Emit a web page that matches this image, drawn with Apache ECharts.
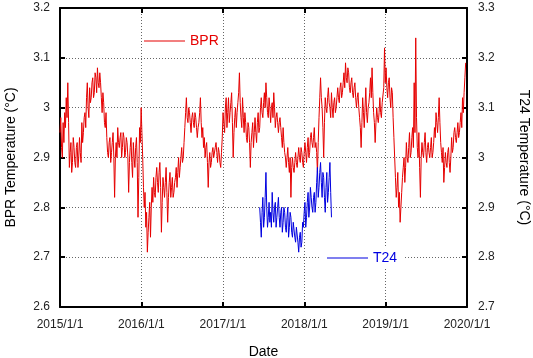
<!DOCTYPE html>
<html>
<head>
<meta charset="utf-8">
<title>BPR / T24 Temperature</title>
<script src="https://cdn.jsdelivr.net/npm/echarts@6/dist/echarts.min.js"></script>
<style>
  html, body { margin: 0; padding: 0; background: #fff; }
  #chart { width: 533px; height: 358px; }
</style>
</head>
<body>
<div id="chart"></div>
<script>
// readings twice a week, first one on the start date
const bprStart = '2015-01-01'
const t24Start = '2017-06-15'
const stepDays = 3.5

const bprTemps = [
  // 2015
  2.95, 2.98, 2.92, 2.90, 2.97, 2.93, 2.99, 2.96, 3.02, 2.98, 3.05, 2.97, 2.88, 2.91,
  2.93, 2.87, 2.89, 2.94, 2.92, 2.89, 2.88, 2.92, 2.93, 2.88, 2.90, 2.94, 2.91, 2.89,
  2.97, 2.93, 2.95, 2.98, 2.99, 2.96, 3.02, 3.05, 3.00, 2.98, 3.04, 3.01, 3.02, 3.05,
  3.06, 3.02, 3.03, 3.07, 3.06, 3.03, 3.08, 3.05, 3.04, 3.07, 3.05, 3.02, 2.99, 3.03,
  3.01, 2.97, 2.96, 2.99, 2.94, 2.91, 2.90, 2.93, 2.94, 2.89, 2.91, 2.93, 2.95, 2.90,
  2.82, 2.90, 2.93, 2.90, 2.96, 2.93, 2.92, 2.94, 2.95, 2.90, 2.92, 2.95, 2.94, 2.90,
  2.91, 2.94, 2.93, 2.90, 2.83, 2.89, 2.92, 2.94, 2.89, 2.86, 2.93, 2.90, 2.88, 2.92,
  2.94, 2.89, 2.78, 2.86, 2.96, 2.93, 3.00,
  // 2016
  2.95, 2.90, 2.84, 2.80, 2.83, 2.76, 2.79, 2.71, 2.75, 2.78, 2.81, 2.74, 2.80, 2.84,
  2.81, 2.86, 2.83, 2.82, 2.86, 2.88, 2.85, 2.83, 2.87, 2.89, 2.84, 2.75, 2.81, 2.86,
  2.84, 2.82, 2.85, 2.88, 2.83, 2.77, 2.82, 2.85, 2.87, 2.82, 2.84, 2.86, 2.82, 2.83,
  2.85, 2.86, 2.88, 2.84, 2.87, 2.90, 2.86, 2.88, 2.90, 2.92, 2.89, 2.90, 2.93, 2.96,
  2.99, 3.02, 2.98, 2.97, 3.00, 2.99, 2.97, 2.95, 2.98, 2.99, 2.97, 2.96, 2.99, 2.98,
  2.96, 2.94, 2.96, 2.97, 2.99, 3.02, 2.97, 2.94, 2.96, 2.92, 2.94, 2.90, 2.92, 2.93,
  2.89, 2.84, 2.89, 2.91, 2.88, 2.89, 2.91, 2.92, 2.90, 2.90, 2.92, 2.93, 2.91, 2.89,
  2.92, 2.91, 2.89, 2.88, 2.91, 2.94,
  // 2017
  2.99, 2.97, 2.95, 3.00, 3.02, 2.96, 2.99, 3.02, 2.97, 2.99, 3.01, 3.03, 2.97, 2.90,
  2.95, 2.98, 3.00, 2.96, 2.99, 3.01, 3.03, 3.07, 3.01, 2.98, 2.96, 3.02, 2.98, 2.95,
  2.99, 2.97, 2.94, 2.93, 2.97, 2.96, 2.93, 2.88, 2.93, 2.95, 2.97, 2.92, 2.95, 2.98,
  2.95, 2.93, 2.97, 2.99, 2.95, 2.96, 3.00, 3.02, 2.99, 2.98, 3.01, 3.03, 3.00, 3.05,
  3.02, 2.99, 2.98, 3.02, 3.00, 2.97, 3.00, 3.01, 2.98, 3.03, 3.00, 2.96, 2.98, 2.99,
  2.97, 2.95, 2.97, 2.98, 2.96, 2.94, 2.92, 2.96, 2.93, 2.91, 2.90, 2.88, 2.90, 2.92,
  2.89, 2.87, 2.90, 2.82, 2.88, 2.90, 2.88, 2.87, 2.89, 2.91, 2.89, 2.88, 2.90, 2.92,
  2.90, 2.89, 2.92, 2.91, 2.89, 2.88,
  // 2018
  2.91, 2.93, 2.91, 2.89, 2.92, 2.94, 2.90, 2.91, 2.94, 2.95, 2.93, 2.92, 2.94, 2.96,
  2.92, 2.93, 2.91, 2.87, 2.93, 2.98, 3.02, 3.06, 3.02, 3.00, 2.96, 2.90, 2.97, 3.02,
  3.00, 2.99, 3.02, 3.04, 3.01, 3.00, 2.98, 3.03, 3.00, 2.98, 3.01, 3.02, 2.99, 3.00,
  3.02, 3.04, 3.02, 3.01, 3.04, 3.05, 3.02, 3.03, 3.05, 3.07, 3.04, 3.09, 3.06, 3.05,
  3.08, 3.07, 3.04, 3.03, 3.05, 3.06, 3.03, 3.02, 3.04, 3.05, 3.02, 3.00, 3.02, 3.03,
  3.00, 2.98, 2.96, 2.92, 2.97, 3.02, 2.99, 2.96, 3.00, 3.04, 2.99, 2.97, 3.00, 3.01,
  3.03, 3.06, 3.02, 3.08, 3.03, 2.99, 2.97, 2.93, 2.97, 3.00, 2.98, 2.97, 2.99, 3.02,
  2.99, 2.98, 3.01, 3.01, 3.04, 3.12,
  // 2019
  3.05, 3.08, 3.04, 3.02, 3.05, 3.06, 3.02, 3.00, 3.04, 3.03, 2.98, 2.94, 2.90, 2.86,
  2.82, 2.84, 2.87, 2.80, 2.83, 2.77, 2.80, 2.83, 2.86, 2.88, 2.90, 2.85, 2.88, 2.93,
  2.90, 2.89, 2.92, 2.95, 2.90, 2.91, 2.94, 2.96, 2.92, 3.05, 2.95, 3.14, 2.98, 2.92,
  2.90, 2.95, 2.88, 2.82, 2.90, 2.93, 2.91, 2.90, 2.93, 2.95, 2.91, 2.89, 2.92, 2.93,
  2.91, 2.90, 2.92, 2.94, 2.90, 2.91, 2.93, 2.96, 2.94, 2.99, 2.97, 2.95, 2.98, 3.02,
  2.97, 2.93, 2.91, 2.89, 2.92, 2.85, 2.88, 2.91, 2.89, 2.88, 2.91, 2.92, 2.89, 2.87,
  2.90, 2.94, 2.91, 2.92, 2.95, 2.96, 2.94, 2.93, 2.95, 2.97, 2.94, 2.95, 2.97, 2.99,
  2.96, 3.02, 2.99, 3.03, 3.06, 3.09
]

const t24Temps = [
  2.90, 2.87, 2.84, 2.89, 2.92, 2.86, 2.88, 2.92, 2.97, 2.90, 2.86, 2.88, 2.91, 2.87,
  2.89, 2.86, 2.93, 2.89, 2.87, 2.90, 2.91, 2.86, 2.88, 2.90, 2.92, 2.88, 2.86, 2.89,
  2.90, 2.85, 2.87, 2.90, 2.89, 2.86, 2.85, 2.88, 2.90, 2.84, 2.86, 2.89, 2.88, 2.85,
  2.84, 2.87, 2.87, 2.84, 2.83, 2.86, 2.86, 2.83, 2.81, 2.84, 2.85, 2.82, 2.83, 2.87,
  2.86, 2.89, 2.91, 2.86, 2.88, 2.91, 2.93, 2.88, 2.90, 2.94, 2.92, 2.90, 2.89, 2.92,
  2.93, 2.89, 2.91, 2.95, 2.98, 2.92, 2.94, 2.97, 2.99, 2.95, 2.92, 2.97, 2.96, 2.92,
  2.89, 2.94, 2.97, 2.91, 2.93, 2.96, 2.99, 2.93, 2.88
]

const DAY = 24 * 3600 * 1000
const toSeries = (start, values) => {
  const t0 = new Date(start + 'T00:00:00').getTime()
  return values.map((v, i) => [t0 + i * stepDays * DAY, v])
}

const font = 'Liberation Sans, Arial, sans-serif'
const gridLine = { show: true, lineStyle: { color: '#666', type: [1, 2], width: 1 } }
const frame = { show: true, lineStyle: { color: '#000', width: 2 } }
const tick = { show: true, inside: true, length: 5, lineStyle: { color: '#000', width: 2 } }

const xMin = new Date('2015-01-01T00:00:00').getTime()
const xMax = new Date('2020-01-01T00:00:00').getTime()

const chart = echarts.init(document.getElementById('chart'))
const option = {
  animation: false,
  backgroundColor: '#fff',
  textStyle: { fontFamily: font },
  grid: { left: 60, right: 66, top: 8, bottom: 51, containLabel: false, outerBoundsMode: 'none' },
  legend: [
    {
      data: ['BPR'],
      left: 139,
      top: 29,
      icon: 'rect',
      itemWidth: 41,
      itemHeight: 1,
      selectedMode: false,
      textStyle: { color: '#e60000', fontSize: 14, fontFamily: font }
    },
    {
      data: ['T24'],
      left: 321,
      top: 248,
      icon: 'rect',
      itemWidth: 41,
      itemHeight: 1,
      selectedMode: false,
      backgroundColor: '#fff',
      padding: [3, 6, 3, 6],
      textStyle: { color: '#0000e0', fontSize: 14, fontFamily: font }
    }
  ],
  xAxis: [
    {
      type: 'time',
      min: xMin,
      max: xMax,
      minInterval: 365 * DAY,
      name: 'Date',
      nameLocation: 'middle',
      nameGap: 38,
      nameTextStyle: { color: '#000', fontSize: 14, fontFamily: font },
      axisLine: frame,
      axisTick: tick,
      splitLine: gridLine,
      axisLabel: {
        color: '#222',
        fontSize: 12,
        margin: 12,
        hideOverlap: false,
        showMinLabel: true,
        showMaxLabel: true,
        formatter: '{yyyy}/{M}/{d}'
      }
    },
    {
      type: 'time',
      position: 'top',
      min: xMin,
      max: xMax,
      minInterval: 365 * DAY,
      axisLine: frame,
      axisTick: tick,
      axisLabel: { show: false },
      splitLine: { show: false }
    }
  ],
  yAxis: [
    {
      type: 'value',
      min: 2.6,
      max: 3.2,
      interval: 0.1,
      name: 'BPR Temperature (°C)',
      nameLocation: 'middle',
      nameGap: 42,
      nameTextStyle: { color: '#000', fontSize: 14, fontFamily: font },
      axisLine: frame,
      axisTick: tick,
      splitLine: gridLine,
      axisLabel: { color: '#222', fontSize: 12, margin: 10 }
    },
    {
      type: 'value',
      min: 2.7,
      max: 3.3,
      interval: 0.1,
      position: 'right',
      name: 'T24 Temperature (°C)',
      nameLocation: 'middle',
      nameRotate: -90,
      nameGap: 50,
      nameTextStyle: { color: '#000', fontSize: 14, fontFamily: font },
      axisLine: frame,
      axisTick: tick,
      splitLine: { show: false },
      axisLabel: { color: '#222', fontSize: 12, margin: 11 }
    }
  ],
  series: [
    {
      name: 'BPR',
      type: 'line',
      showSymbol: false,
      symbol: 'none',
      xAxisIndex: 0,
      yAxisIndex: 0,
      color: '#e60000',
      lineStyle: { width: 1, color: '#e60000' },
      data: toSeries(bprStart, bprTemps)
    },
    {
      name: 'T24',
      type: 'line',
      showSymbol: false,
      symbol: 'none',
      xAxisIndex: 0,
      yAxisIndex: 1,
      color: '#0000e0',
      lineStyle: { width: 1, color: '#0000e0' },
      data: toSeries(t24Start, t24Temps)
    }
  ]
}
chart.setOption(option)
</script>
</body>
</html>
